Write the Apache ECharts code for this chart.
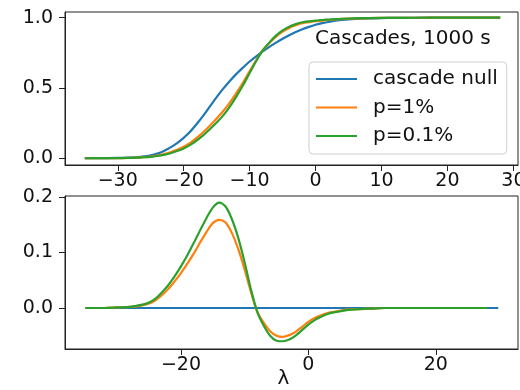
<!DOCTYPE html>
<html><head><meta charset="utf-8">
<script src="https://cdn.jsdelivr.net/npm/echarts@6/dist/echarts.min.js"></script>
<style>html,body{margin:0;padding:0;background:#fff}#c{width:520px;height:390px}</style>
</head><body><div id="c"></div>
<script>
// lambda sample points
const lambda = [-35,-32,-30,-28,-27,-26,-25,-24,-23,-22,-21,-20,-19,-18,-17,-16,-15,-14,-13,-12,-11,-10,-9,-8,-7,-6,-5,-4,-3,-2,-1,0,1,2,3,4,6,8,10,12,15,20,25,28];
// top panel: cumulative curves
const cascadeNull = [0,0.001,0.002,0.005,0.008,0.013,0.02,0.033,0.052,0.077,0.108,0.145,0.19,0.245,0.305,0.37,0.435,0.495,0.55,0.6,0.645,0.688,0.725,0.76,0.792,0.822,0.85,0.875,0.897,0.917,0.934,0.949,0.961,0.97,0.978,0.984,0.991,0.995,0.997,0.998,0.999,1,1,1];
const p1 = [0,0.001,0.001,0.003,0.005,0.008,0.012,0.019,0.029,0.043,0.06,0.082,0.11,0.147,0.187,0.233,0.282,0.336,0.396,0.465,0.539,0.619,0.697,0.767,0.819,0.864,0.9,0.927,0.946,0.96,0.968,0.974,0.979,0.983,0.987,0.991,0.994,0.997,0.998,0.998,0.999,1,1,1];
const p01 = [0,0.001,0.001,0.003,0.004,0.007,0.01,0.016,0.024,0.036,0.051,0.07,0.095,0.128,0.165,0.208,0.254,0.305,0.367,0.44,0.519,0.606,0.692,0.768,0.824,0.872,0.909,0.935,0.954,0.967,0.974,0.979,0.983,0.986,0.989,0.992,0.995,0.997,0.998,0.998,0.999,1,1,1];
// bottom panel: differences
const nullDiffX = [-35, 29.8];
const nullDiff = [0, 0];
const diffP1 = [0,0,0.001,0.002,0.003,0.005,0.008,0.014,0.023,0.034,0.048,0.063,0.08,0.098,0.118,0.137,0.153,0.159,0.154,0.135,0.106,0.069,0.028,-0.007,-0.027,-0.042,-0.05,-0.052,-0.049,-0.043,-0.034,-0.025,-0.018,-0.013,-0.009,-0.007,-0.003,-0.002,-0.001,0,0,0,0,0];
const diffP01 = [0,0,0.001,0.002,0.004,0.006,0.01,0.017,0.028,0.041,0.057,0.075,0.095,0.117,0.14,0.162,0.181,0.19,0.183,0.16,0.126,0.082,0.033,-0.008,-0.032,-0.05,-0.059,-0.06,-0.057,-0.05,-0.04,-0.03,-0.022,-0.016,-0.011,-0.008,-0.004,-0.002,-0.001,0,0,0,0,0];
// ticks
const topXTicks = [-30,-20,-10,0,10,20,30];
const topYTicks = [0,0.5,1.0];
const botXTicks = [-20,0,20];
const botYTicks = [0,0.1,0.2];
const names = ['cascade null','p=1%','p=0.1%'];
const colors = ['#1f77b4','#ff7f0e','#2ca02c'];

const font = 'DejaVu Sans';
const fmtX = v => (v < 0 ? '\u2212' + Math.abs(v) : String(v));
const fmtY = v => (v < 0 ? '\u2212' + Math.abs(v).toFixed(1) : v.toFixed(1));
const pairs = (xs, ys) => xs.map((x, i) => [x, ys[i]]);
const axisCommon = (ticks, fmt, margin) => ({
  type: 'value',
  splitLine: {show: false},
  axisLine: {show: true, onZero: false, lineStyle: {color: '#222', width: 1}},
  axisTick: {show: true, length: 6, lineStyle: {color: '#222', width: 1}, customValues: ticks},
  axisLabel: {customValues: ticks, formatter: fmt, fontSize: 19, color: '#111', fontFamily: font, margin: margin,
    hideOverlap: false}
});
const gridCommon = {show: true, borderColor: '#222', borderWidth: 1, backgroundColor: 'transparent',
  containLabel: false, outerBoundsMode: 'none'};
const lineSeries = (name, xi, data, color) => ({
  type: 'line', name: name, xAxisIndex: xi, yAxisIndex: xi, data: data,
  symbol: 'none', showSymbol: false, smooth: 0.3,
  lineStyle: {width: 2.2, color: color}, itemStyle: {color: color}
});

const chart = echarts.init(document.getElementById('c'));
chart.setOption({
  animation: false,
  textStyle: {fontFamily: font},
  grid: [
    Object.assign({left: 65, top: 12, width: 453, height: 153}, gridCommon),
    Object.assign({left: 65, top: 196, width: 453, height: 153}, gridCommon)
  ],
  xAxis: [
    Object.assign(axisCommon(topXTicks, fmtX, 7), {gridIndex: 0, min: -38, max: 30.7}),
    Object.assign(axisCommon(botXTicks, fmtX, 7), {gridIndex: 1, min: -38.2, max: 32.9,
      name: 'λ', nameLocation: 'middle', nameGap: 20, nameMoveOverlap: false,
      nameTextStyle: {fontSize: 20, color: '#111', fontFamily: font, padding: [0, 16, 0, 0]}})
  ],
  yAxis: [
    Object.assign(axisCommon(topYTicks, fmtY, 12), {gridIndex: 0, min: -0.048, max: 1.04}),
    Object.assign(axisCommon(botYTicks, fmtY, 12), {gridIndex: 1, min: -0.074, max: 0.202})
  ],
  title: {text: 'Cascades, 1000 s', left: 315, top: 29, padding: 0,
    textStyle: {fontSize: 20, fontWeight: 'normal', color: '#111', fontFamily: font}},
  legend: {
    orient: 'vertical', left: 309, top: 62, padding: [7, 9, 8, 7],
    icon: 'rect', itemWidth: 41, itemHeight: 2.2, itemGap: 8.5,
    borderColor: '#d0d0d0', borderWidth: 1, borderRadius: 4,
    backgroundColor: 'rgba(255,255,255,0.8)',
    textStyle: {fontSize: 20, lineHeight: 20, color: '#111', fontFamily: font, padding: [0, 0, 0, 11]},
    data: names
  },
  series: [
    lineSeries(names[0], 0, pairs(lambda, cascadeNull), colors[0]),
    lineSeries(names[1], 0, pairs(lambda, p1), colors[1]),
    lineSeries(names[2], 0, pairs(lambda, p01), colors[2]),
    lineSeries('diff ' + names[0], 1, pairs(nullDiffX, nullDiff), colors[0]),
    lineSeries('diff ' + names[1], 1, pairs(lambda, diffP1), colors[1]),
    lineSeries('diff ' + names[2], 1, pairs(lambda, diffP01), colors[2])
  ]
});
</script></body></html>
